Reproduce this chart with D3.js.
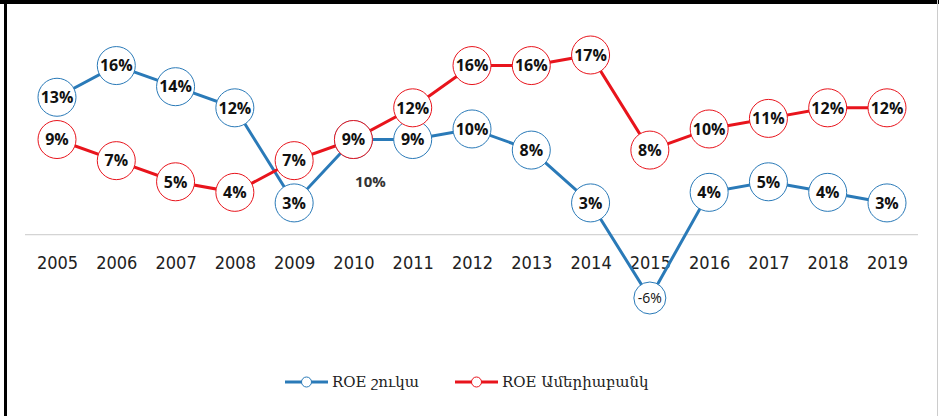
<!DOCTYPE html>
<html>
<head>
<meta charset="utf-8">
<script src="https://cdn.jsdelivr.net/npm/d3@7"></script>
<style>
  html, body { margin: 0; padding: 0; background: #fff; }
  svg { display: block; }
</style>
</head>
<body>
<div id="chart"></div>
<script>
const years = ['2005','2006','2007','2008','2009','2010','2011','2012','2013','2014','2015','2016','2017','2018','2019'];
const roeMarket = [13, 16, 14, 12, 3, 9, 9, 10, 8, 3, -6, 4, 5, 4, 3];
const roeAmeria = [9, 7, 5, 4, 7, 9, 12, 16, 16, 17, 8, 10, 11, 12, 12];
const seriesNames = ['ROE շուկա', 'ROE Ամերիաբանկ'];
const strayLabel = { year: '2010', value: 5, text: '10%' };

const width = 939, height = 416;
const colors = ['#2a7ab8', '#e8141c'];

const svg = d3.select('#chart')
  .append('svg')
  .attr('width', width)
  .attr('height', height);

// frame
svg.append('line').attr('x1', 0).attr('x2', width).attr('y1', 2).attr('y2', 2)
  .attr('stroke', '#000').attr('stroke-width', 4);
svg.append('line').attr('x1', 5.5).attr('x2', 5.5).attr('y1', 0).attr('y2', height)
  .attr('stroke', '#000').attr('stroke-width', 3);
svg.append('line').attr('x1', 937.5).attr('x2', 937.5).attr('y1', 0).attr('y2', height)
  .attr('stroke', '#ccc').attr('stroke-width', 1);

const x = d3.scalePoint()
  .domain(years)
  .range([57, 887]);

const y = d3.scaleLinear()
  .domain([-6, 17])
  .range([298, 55]);

// zero line
svg.append('line')
  .attr('x1', 25).attr('x2', 918)
  .attr('y1', y(0)).attr('y2', y(0))
  .attr('stroke', '#d4d4d4').attr('stroke-width', 1.2);

// category axis, labels only
const xAxis = svg.append('g')
  .attr('transform', 'translate(0,' + (y(0) + 10) + ')')
  .call(d3.axisBottom(x).tickSize(0).tickPadding(12));
xAxis.select('.domain').remove();
xAxis.selectAll('text')
  .attr('font-family', '"DejaVu Sans Condensed", "Liberation Sans Narrow", sans-serif')
  .attr('font-size', 18)
  .attr('fill', '#222');

const series = [roeMarket, roeAmeria];
const line = d3.line().x((d, i) => x(years[i])).y(d => y(d));

series.forEach((vals, s) => {
  svg.append('path')
    .datum(vals)
    .attr('d', line)
    .attr('fill', 'none')
    .attr('stroke', colors[s])
    .attr('stroke-width', 3);
});

series.forEach((vals, s) => {
  const g = svg.append('g');
  g.selectAll('circle')
    .data(vals)
    .enter()
    .append('circle')
    .attr('cx', (d, i) => x(years[i]))
    .attr('cy', d => y(d))
    .attr('r', d => d < 0 ? 16 : 19)
    .attr('fill', '#fff')
    .attr('stroke', colors[s])
    .attr('stroke-width', 1);
  g.selectAll('text')
    .data(vals)
    .enter()
    .append('text')
    .attr('x', (d, i) => x(years[i]))
    .attr('y', d => y(d))
    .attr('dy', '0.36em')
    .attr('text-anchor', 'middle')
    .attr('font-family', '"Open Sans", "DejaVu Sans", sans-serif')
    .attr('font-weight', d => d < 0 ? 'normal' : 'bold')
    .attr('font-size', d => d < 0 ? 14 : 16)
    .attr('fill', '#111')
    .text(d => d + '%');
});

svg.append('text')
  .attr('x', x(strayLabel.year) + 17)
  .attr('y', y(strayLabel.value))
  .attr('dy', '0.36em')
  .attr('text-anchor', 'middle')
  .attr('font-family', '"Open Sans", "DejaVu Sans", sans-serif')
  .attr('font-weight', 'bold')
  .attr('font-size', 15)
  .attr('fill', '#333')
  .text(strayLabel.text);

// legend
const legendX = [285, 455];
const legend = svg.append('g');
seriesNames.forEach((name, s) => {
  const lg = legend.append('g').attr('transform', 'translate(' + legendX[s] + ',382)');
  lg.append('line').attr('x1', 0).attr('x2', 43).attr('y1', 0).attr('y2', 0)
    .attr('stroke', colors[s]).attr('stroke-width', 3);
  lg.append('circle').attr('cx', 21.5).attr('cy', 0).attr('r', 5)
    .attr('fill', '#fff').attr('stroke', colors[s]).attr('stroke-width', 1);
  lg.append('text')
    .attr('x', 47).attr('y', 0).attr('dy', '0.35em')
    .attr('font-family', '"DejaVu Serif", "Noto Sans", serif')
    .attr('font-size', 15)
    .attr('fill', '#222')
    .text(name);
});
</script>
</body>
</html>
